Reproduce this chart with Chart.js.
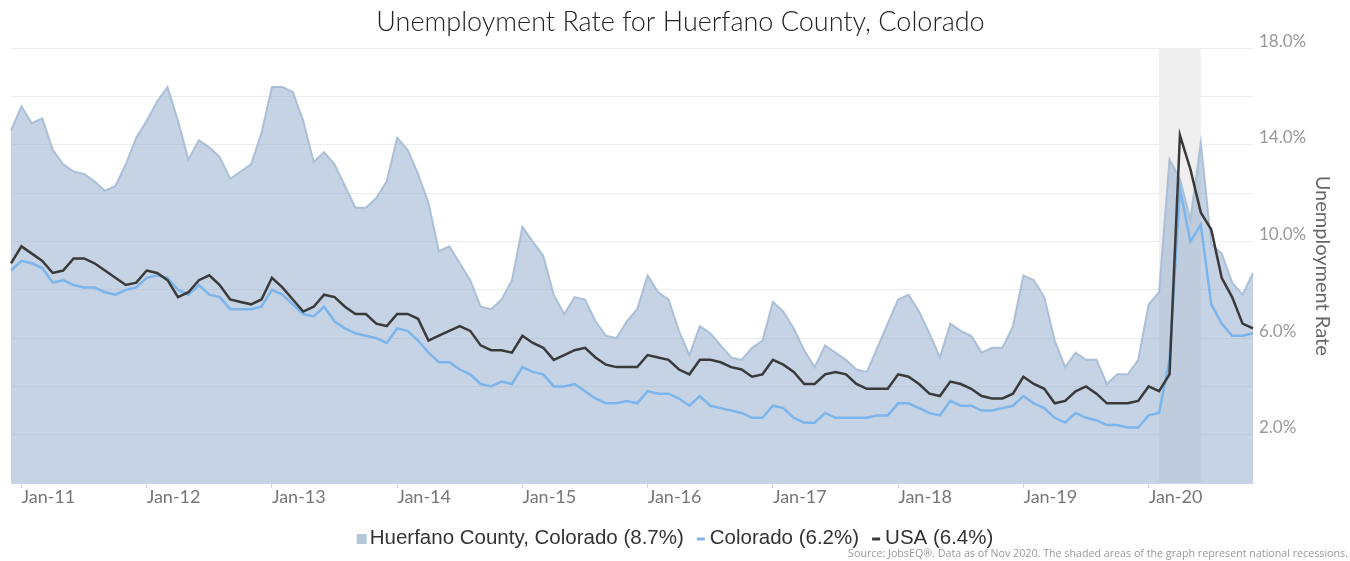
<!DOCTYPE html>
<html>
<head>
<meta charset="utf-8">
<script src="https://cdn.jsdelivr.net/npm/chart.js@4.4.1/dist/chart.umd.min.js"></script>
<style>
html, body { margin: 0; padding: 0; background: #ffffff; }
#wrap { width: 1350px; height: 561px; position: relative; }
</style>
</head>
<body>
<div id="wrap"><canvas id="c" width="1350" height="561"></canvas></div>
<script>
// ---- categories (monthly, Dec 2010 - Nov 2020) ----
const months = [
  'Dec-10',
  'Jan-11','Feb-11','Mar-11','Apr-11','May-11','Jun-11','Jul-11','Aug-11','Sep-11','Oct-11','Nov-11','Dec-11',
  'Jan-12','Feb-12','Mar-12','Apr-12','May-12','Jun-12','Jul-12','Aug-12','Sep-12','Oct-12','Nov-12','Dec-12',
  'Jan-13','Feb-13','Mar-13','Apr-13','May-13','Jun-13','Jul-13','Aug-13','Sep-13','Oct-13','Nov-13','Dec-13',
  'Jan-14','Feb-14','Mar-14','Apr-14','May-14','Jun-14','Jul-14','Aug-14','Sep-14','Oct-14','Nov-14','Dec-14',
  'Jan-15','Feb-15','Mar-15','Apr-15','May-15','Jun-15','Jul-15','Aug-15','Sep-15','Oct-15','Nov-15','Dec-15',
  'Jan-16','Feb-16','Mar-16','Apr-16','May-16','Jun-16','Jul-16','Aug-16','Sep-16','Oct-16','Nov-16','Dec-16',
  'Jan-17','Feb-17','Mar-17','Apr-17','May-17','Jun-17','Jul-17','Aug-17','Sep-17','Oct-17','Nov-17','Dec-17',
  'Jan-18','Feb-18','Mar-18','Apr-18','May-18','Jun-18','Jul-18','Aug-18','Sep-18','Oct-18','Nov-18','Dec-18',
  'Jan-19','Feb-19','Mar-19','Apr-19','May-19','Jun-19','Jul-19','Aug-19','Sep-19','Oct-19','Nov-19','Dec-19',
  'Jan-20','Feb-20','Mar-20','Apr-20','May-20','Jun-20','Jul-20','Aug-20','Sep-20','Oct-20','Nov-20'
];

// ---- x tick labels shown ----
const xTickLabels = ['Jan-11','Jan-12','Jan-13','Jan-14','Jan-15','Jan-16','Jan-17','Jan-18','Jan-19','Jan-20'];

// ---- y tick labels shown (percent) ----
const yTickLabels = [2, 6, 10, 14, 18];

// ---- series (unemployment rate, %) ----
const huerfano = [
  14.6,
  15.6,14.9,15.1,13.8,13.2,12.9,12.8,12.5,12.1,12.3,13.2,14.3,
  15.0,15.8,16.4,15.0,13.4,14.2,13.9,13.5,12.6,12.9,13.2,14.5,
  16.4,16.4,16.2,15.0,13.3,13.7,13.2,12.3,11.4,11.4,11.8,12.5,
  14.3,13.8,12.8,11.6,9.6,9.8,9.1,8.4,7.3,7.2,7.6,8.4,
  10.6,10.0,9.4,7.8,7.0,7.7,7.6,6.7,6.1,6.0,6.7,7.2,
  8.6,7.9,7.6,6.3,5.3,6.5,6.2,5.7,5.2,5.1,5.6,5.9,
  7.5,7.1,6.4,5.5,4.8,5.7,5.4,5.1,4.7,4.6,5.6,6.6,
  7.6,7.8,7.1,6.2,5.2,6.6,6.3,6.1,5.4,5.6,5.6,6.5,
  8.6,8.4,7.7,5.9,4.8,5.4,5.1,5.1,4.1,4.5,4.5,5.1,
  7.4,7.9,13.4,12.6,10.9,14.1,9.9,9.5,8.3,7.8,8.7
];
const colorado = [
  8.8,
  9.2,9.1,8.9,8.3,8.4,8.2,8.1,8.1,7.9,7.8,8.0,8.1,
  8.5,8.6,8.5,8.0,7.8,8.2,7.8,7.7,7.2,7.2,7.2,7.3,
  8.0,7.8,7.4,7.0,6.9,7.3,6.7,6.4,6.2,6.1,6.0,5.8,
  6.4,6.3,5.9,5.4,5.0,5.0,4.7,4.5,4.1,4.0,4.2,4.1,
  4.8,4.6,4.5,4.0,4.0,4.1,3.8,3.5,3.3,3.3,3.4,3.3,
  3.8,3.7,3.7,3.5,3.2,3.6,3.2,3.1,3.0,2.9,2.7,2.7,
  3.2,3.1,2.7,2.5,2.5,2.9,2.7,2.7,2.7,2.7,2.8,2.8,
  3.3,3.3,3.1,2.9,2.8,3.4,3.2,3.2,3.0,3.0,3.1,3.2,
  3.6,3.3,3.1,2.7,2.5,2.9,2.7,2.6,2.4,2.4,2.3,2.3,
  2.8,2.9,5.1,12.2,10.0,10.7,7.4,6.6,6.1,6.1,6.2
];
const usa = [
  9.1,
  9.8,9.5,9.2,8.7,8.8,9.3,9.3,9.1,8.8,8.5,8.2,8.3,
  8.8,8.7,8.4,7.7,7.9,8.4,8.6,8.2,7.6,7.5,7.4,7.6,
  8.5,8.1,7.6,7.1,7.3,7.8,7.7,7.3,7.0,7.0,6.6,6.5,
  7.0,7.0,6.8,5.9,6.1,6.3,6.5,6.3,5.7,5.5,5.5,5.4,
  6.1,5.8,5.6,5.1,5.3,5.5,5.6,5.2,4.9,4.8,4.8,4.8,
  5.3,5.2,5.1,4.7,4.5,5.1,5.1,5.0,4.8,4.7,4.4,4.5,
  5.1,4.9,4.6,4.1,4.1,4.5,4.6,4.5,4.1,3.9,3.9,3.9,
  4.5,4.4,4.1,3.7,3.6,4.2,4.1,3.9,3.6,3.5,3.5,3.7,
  4.4,4.1,3.9,3.3,3.4,3.8,4.0,3.7,3.3,3.3,3.3,3.4,
  4.0,3.8,4.5,14.4,13.0,11.2,10.5,8.5,7.7,6.6,6.4
];

// ---- recession band (category range) ----
const recession = ['Feb-20', 'Jun-20'];

const seriesNames = ['Huerfano County, Colorado', 'Colorado', 'USA'];
const titleText = 'Unemployment Rate for Huerfano County, Colorado';
const yTitle = 'Unemployment Rate';
const sourceText = 'Source: JobsEQ\u00AE. Data as of Nov 2020. The shaded areas of the graph represent national recessions.';

const recessionPlugin = {
  id: 'recessionBand',
  beforeDatasetsDraw(chart) {
    const xs = chart.scales.x, area = chart.chartArea, ctx = chart.ctx;
    const a = xs.getPixelForValue(months.indexOf(recession[0]));
    const b = xs.getPixelForValue(months.indexOf(recession[1]));
    ctx.save();
    ctx.fillStyle = '#efefef';
    ctx.fillRect(a, area.top, b - a, area.bottom - area.top);
    ctx.restore();
  }
};

const last = arr => arr[arr.length - 1];

// legend row drawn under the axis, centred, with markers read from the datasets
const legendPlugin = {
  id: 'bottomLegend',
  afterDraw(chart) {
    const ctx = chart.ctx;
    const ds = chart.data.datasets;
    ctx.save();
    ctx.font = '20.5px "Liberation Sans", Arial, sans-serif';
    ctx.textBaseline = 'middle';
    ctx.textAlign = 'left';
    const items = ds.map((d, i) => {
      const text = `${d.label} (${last(d.data).toFixed(1)}%)`;
      const mw = i === 0 ? 10 : 8;
      const gap = i === 0 ? 3 : 5;
      return { d, i, text, mw, gap, tw: ctx.measureText(text).width };
    });
    const itemGap = 13;
    const total = items.reduce((s, it) => s + it.mw + it.gap + it.tw, 0) + itemGap * (items.length - 1);
    let x = chart.width / 2 - total / 2;
    const y = 538;
    items.forEach(it => {
      if (it.i === 0) {
        ctx.fillStyle = '#b6c7dc';
        ctx.fillRect(x, y - 4, it.mw, 10);
      } else {
        ctx.strokeStyle = it.d.borderColor;
        ctx.lineWidth = 3;
        ctx.beginPath();
        ctx.moveTo(x, y + 1);
        ctx.lineTo(x + it.mw, y + 1);
        ctx.stroke();
      }
      x += it.mw + it.gap;
      ctx.fillStyle = '#333333';
      ctx.fillText(it.text, x, y);
      x += it.tw + itemGap;
    });
    // source note
    ctx.font = '10.7px "Open Sans", sans-serif';
    ctx.fillStyle = '#999999';
    ctx.textAlign = 'right';
    ctx.fillText(sourceText, 1348, 554);
    ctx.restore();
  }
};

new Chart(document.getElementById('c'), {
  type: 'line',
  data: {
    labels: months,
    datasets: [
      {
        label: seriesNames[0],
        data: huerfano,
        order: 3,
        fill: 'origin',
        backgroundColor: 'rgba(150,174,205,0.55)',
        borderColor: 'rgba(165,187,214,0.9)',
        borderWidth: 2,
        pointRadius: 0,
        tension: 0
      },
      {
        label: seriesNames[1],
        data: colorado,
        order: 2,
        fill: false,
        borderColor: '#7cb5ec',
        backgroundColor: '#7cb5ec',
        borderWidth: 2.5,
        pointRadius: 0,
        tension: 0
      },
      {
        label: seriesNames[2],
        data: usa,
        order: 1,
        fill: false,
        borderColor: '#3a3a3a',
        backgroundColor: '#3a3a3a',
        borderWidth: 2.5,
        pointRadius: 0,
        tension: 0
      }
    ]
  },
  options: {
    responsive: false,
    animation: false,
    devicePixelRatio: 1,
    layout: { padding: { left: 11, right: 0, top: 0, bottom: 38 } },
    plugins: {
      tooltip: { enabled: false },
      legend: { display: false },
      title: {
        display: true,
        text: titleText,
        color: '#222222',
        font: { family: 'Lato', size: 27, weight: '300' },
        padding: { top: 6, bottom: 10 }
      }
    },
    scales: {
      x: {
        type: 'category',
        offset: false,
        afterFit(scale) { scale.height = 40; },
        grid: {
          display: true,
          drawOnChartArea: false,
          drawTicks: true,
          tickLength: 5,
          color: '#ccd6eb'
        },
        border: { display: true, color: '#ccd6eb' },
        ticks: {
          autoSkip: false,
          maxRotation: 0,
          minRotation: 0,
          align: 'start',
          padding: -2,
          color: '#777777',
          font: { family: 'Lato', size: 18 },
          callback(value, index) {
            const l = months[index];
            return xTickLabels.includes(l) ? l : null;
          }
        }
      },
      y: {
        position: 'right',
        min: 0,
        max: 18,
        afterFit(scale) { scale.width = 97; },
        grid: { color: '#ececec', drawTicks: false },
        border: { display: false },
        ticks: {
          stepSize: 2,
          padding: 6,
          labelOffset: -7,
          color: '#999999',
          font: { family: 'Lato', size: 17 },
          callback(v) { return yTickLabels.includes(v) ? v.toFixed(1) + '%' : ''; }
        },
        title: {
          display: true,
          text: yTitle,
          color: '#666666',
          font: { family: 'Lato', size: 20 },
          padding: { top: 16, bottom: 0 }
        }
      }
    }
  },
  plugins: [recessionPlugin, legendPlugin]
});
</script>
</body>
</html>
